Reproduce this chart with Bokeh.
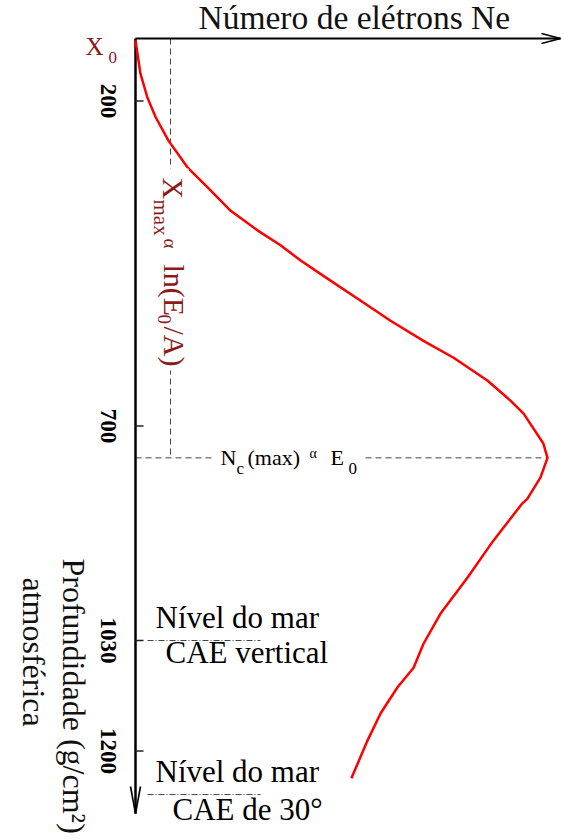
import math
from bokeh.plotting import figure
from bokeh.models import Range1d, Label, BoxAnnotation
from bokeh.core.properties import value
from bokeh.embed import file_html
from bokeh.resources import INLINE

# ---------------- data ----------------
# atmospheric depth (g/cm^2) along the shower profile
depth = [107, 158, 195, 225, 261, 302, 333, 353, 369, 399, 422, 445, 469, 510,
         538, 569, 595, 630, 661, 681, 727, 749, 779, 812, 819, 876, 933, 989,
         1035, 1072, 1102, 1142, 1184, 1242]
# number of electrons Ne, relative to its maximum
ne = [0.0, 0.012, 0.029, 0.049, 0.080, 0.126, 0.175, 0.206, 0.231, 0.296,
      0.352, 0.400, 0.456, 0.553, 0.619, 0.699, 0.772, 0.854, 0.910, 0.942,
      0.990, 1.000, 0.983, 0.951, 0.939, 0.869, 0.806, 0.740, 0.699, 0.675,
      0.636, 0.595, 0.563, 0.524]

tick_depths = [200, 700, 1030, 1200]
tick_labels = ["200", "700", "1030", "1200"]

sea_levels = [1030, 1267]          # drawn sea-level marks (vertical, 30 deg)
xmax_guide_ne = 0.085              # where the Xmax guide line is drawn

# ---------------- layout helpers (pixel -> data) ----------------
W, H = 564, 840


def xd(px):
    return (px - 135) / 412.0


def yd(py):
    return (py + 29.5) / 0.65


K = 0.36   # baseline correction (fraction of font size)

FONT = "Liberation Serif"
SERIF = value(FONT)
DARKRED = "#8b1a1a"

p = figure(width=W, height=H, output_backend="svg", toolbar_location=None,
           x_range=Range1d(xd(0), xd(W)), y_range=Range1d(yd(H), yd(0)),
           x_axis_location=None, y_axis_location=None, min_border=0)
p.grid.visible = False
p.outline_line_color = None
p.background_fill_color = "white"

top_depth = yd(38)

# guide lines
peak = ne.index(max(ne))
p.segment(x0=[0], y0=[depth[peak]], x1=[ne[peak]], y1=[depth[peak]],
          line_color="#444444", line_width=1, line_dash="6 4")
p.segment(x0=[xmax_guide_ne], y0=[top_depth], x1=[xmax_guide_ne], y1=[depth[peak]],
          line_color="#444444", line_width=1, line_dash="6 4")

# sea level marks
p.segment(x0=[xd(147)] * len(sea_levels), x1=[xd(260)] * len(sea_levels),
          y0=sea_levels, y1=sea_levels, line_color="#444444", line_width=1,
          line_dash="6 2 1 2")

# axes
p.segment(x0=[0], y0=[top_depth], x1=[0], y1=[yd(813)], line_color="black", line_width=2.5)
p.segment(x0=[0], y0=[top_depth], x1=[xd(560)], y1=[top_depth], line_color="black", line_width=2.2)
# arrow heads
p.segment(x0=[xd(130), xd(140)], y0=[yd(786), yd(786)], x1=[0, 0], y1=[yd(813), yd(813)],
          line_color="black", line_width=1.6)
p.segment(x0=[xd(541), xd(541)], y0=[yd(33), yd(43)], x1=[xd(560), xd(560)], y1=[top_depth, top_depth],
          line_color="black", line_width=1.6)

# ticks
p.segment(x0=[0] * len(tick_depths), x1=[xd(143)] * len(tick_depths),
          y0=tick_depths, y1=tick_depths, line_color="#222222", line_width=1.5)
p.text(x=[xd(100 + K * 23)] * len(tick_depths), y=tick_depths, text=tick_labels,
       angle=-math.pi / 2, text_align="center", text_baseline="alphabetic",
       text_font=SERIF, text_font_style="bold", text_font_size="23px",
       text_color="black")

# shower curve
p.line(ne, depth, line_color="#ff0000", line_width=2.5)

# white masks behind labels crossing guide lines
p.add_layout(BoxAnnotation(left=xd(153), right=xd(188), top=yd(168), bottom=yd(370),
                           fill_color="white", fill_alpha=1.0, line_alpha=0.0))
p.add_layout(BoxAnnotation(left=xd(213), right=xd(363), top=yd(445), bottom=yd(477),
                           fill_color="white", fill_alpha=1.0, line_alpha=0.0))

ROT = -math.pi / 2


def lab(px, py, text, size, color="black", angle=0.0, align="left", style="normal"):
    if angle == 0.0:
        ax, ay = px, py - K * size
    else:
        ax, ay = px + K * size, py
    p.add_layout(Label(x=xd(ax), y=yd(ay), text=text, angle=angle,
                       text_font=FONT, text_font_size=f"{size}px",
                       text_color=color, text_align=align,
                       text_baseline="alphabetic", text_font_style=style))


# title of the horizontal axis
lab(198, 29, "Número de elétrons Ne", 33.5, "#111111")

# X0
lab(85, 55, "X", 25, DARKRED)
lab(108, 63, "0", 17, DARKRED)

# Xmax ~ ln(E0/A) (rotated)
lab(162, 177, "X", 30, DARKRED, ROT)
lab(153, 199, "max", 21, DARKRED, ROT)
lab(163, 238, "α", 19, DARKRED, ROT)
lab(163, 264, "ln(E", 30, DARKRED, ROT)
lab(157, 314, "0", 19, DARKRED, ROT)
lab(163, 326, "/A)", 30, DARKRED, ROT)

# Nc(max) ~ E0
lab(220, 465, "N", 22)
lab(236, 474, "c", 17)
lab(247, 465, "(max)", 22)
lab(309, 458, "α", 14)
lab(330, 465, "E", 22)
lab(348, 474, "0", 17)

# sea level annotations
lab(155, 628, "Nível do mar", 31)
lab(165, 663, "CAE vertical", 31)
lab(155, 782, "Nível do mar", 31)
lab(172, 820, "CAE de 30°", 31)

# vertical axis title (rotated)
lab(62, 558, "Profundidade  (g/cm²)", 32, "#111111", ROT)
lab(22, 577, "atmosférica", 32, "#111111", ROT)

open("out.html", "w").write(file_html(p, INLINE))
